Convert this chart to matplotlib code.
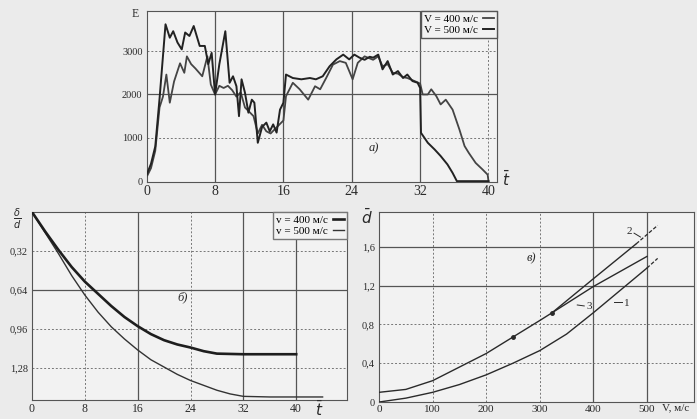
import numpy as np
import matplotlib.pyplot as plt

plt.rcParams['font.family'] = ['Liberation Serif', 'DejaVu Serif']

# ---- panel a): E(t) ----
tA = [0, 0.5, 1.0, 1.5, 2.2, 2.7, 3.1, 3.6, 4.1, 4.5, 5.0, 5.5, 6.2, 6.8, 7.2, 7.6, 8.0,
      8.5, 9.2, 9.7, 10.1, 10.5, 10.8, 11.1, 11.5, 11.9, 12.3, 12.6, 13.0, 13.5, 14.0,
      14.4, 14.8, 15.2, 15.6, 16.0, 16.3, 17.1, 18.1, 19.1, 19.8, 20.6, 21.4, 22.2,
      23.0, 23.7, 24.3, 24.9, 25.5, 26.1, 26.5, 27.1, 27.6, 28.2, 28.8, 29.4, 30.0,
      30.5, 31.1, 31.7, 32.0, 32.1, 32.9, 33.7, 34.4, 35.2, 35.8, 36.3, 40.0]
EA = [150, 400, 800, 1900, 3620, 3310, 3460, 3200, 3040, 3430, 3350, 3580, 3120, 3120,
      2700, 2960, 2000, 2700, 3460, 2270, 2420, 2190, 1500, 2350, 2040, 1580, 1880, 1810,
      885, 1250, 1350, 1150, 1310, 1120, 1650, 1810, 2460, 2380, 2350, 2380, 2350, 2420,
      2650, 2810, 2920, 2810, 2920, 2850, 2800, 2870, 2850, 2920, 2580, 2770, 2460, 2540,
      2380, 2460, 2310, 2270, 2150, 1115, 885, 730, 580, 385, 190, 0, 0]

tB = [0, 0.5, 1.0, 1.5, 1.9, 2.3, 2.7, 3.2, 3.9, 4.4, 4.7, 5.2, 5.7, 6.5, 7.1, 7.5, 8.0,
      8.5, 9.0, 9.5, 10.0, 10.5, 11.0, 11.5, 12.0, 12.5, 13.0, 13.5, 14.0, 14.5, 15.0,
      15.5, 16.0, 16.3, 17.1, 17.9, 18.9, 19.7, 20.3, 21.0, 21.8, 22.6, 23.3, 24.1, 24.7,
      25.5, 26.5, 27.1, 27.6, 28.2, 28.8, 29.4, 30.0, 30.5, 31.1, 31.7, 32.0, 32.3, 32.9,
      33.3, 33.9, 34.4, 35.0, 35.8, 36.6, 37.2, 37.7, 38.5, 39.3, 39.9, 40.0]
EB = [100, 300, 700, 1700, 1950, 2460, 1810, 2300, 2720, 2500, 2880, 2700, 2600, 2420,
      2880, 2230, 2000, 2200, 2150, 2200, 2100, 1950, 2050, 1700, 1600, 1500, 1100, 1300,
      1150, 1100, 1200, 1300, 1400, 1960, 2270, 2120, 1880, 2190, 2120, 2380, 2690, 2770,
      2730, 2350, 2730, 2880, 2800, 2880, 2650, 2700, 2500, 2480, 2400, 2380, 2330, 2280,
      2250, 2000, 2000, 2120, 1960, 1770, 1880, 1650, 1190, 810, 650, 420, 270, 150, 0]

# ---- panel б): delta/d(t) ----
t400 = [0, 2, 4, 6, 8, 10, 12, 14, 16, 18, 20, 22, 24, 26, 28, 32, 36, 40]
dd400 = [0, 0.16, 0.31, 0.45, 0.57, 0.67, 0.77, 0.86, 0.935, 1.0, 1.05, 1.085, 1.11,
         1.14, 1.16, 1.165, 1.165, 1.165]
t500 = [0, 2, 4, 6, 8, 10, 12, 14, 16, 18, 20, 22, 24, 26, 28, 30, 32, 36, 40, 44]
dd500 = [0, 0.17, 0.34, 0.52, 0.68, 0.82, 0.94, 1.04, 1.13, 1.21, 1.27, 1.33, 1.38,
         1.42, 1.46, 1.49, 1.51, 1.515, 1.515, 1.515]

# ---- panel в): d(V) ----
V_common = [0, 50, 100, 150, 200, 250, 300, 323]
d_common = [0.1, 0.13, 0.22, 0.36, 0.50, 0.67, 0.84, 0.92]
V2 = [323, 400, 480]
d2 = [0.92, 1.27, 1.63]
V2_ext = [480, 520]
d2_ext = [1.63, 1.82]
V3 = [323, 400, 500]
d3 = [0.92, 1.19, 1.50]
V1 = [0, 50, 100, 150, 200, 250, 300, 350, 400, 450, 500]
d1 = [0.0, 0.04, 0.10, 0.18, 0.28, 0.40, 0.53, 0.70, 0.92, 1.15, 1.38]
V1_ext = [500, 520]
d1_ext = [1.38, 1.48]

bg = '#ebebeb'
ink = '#2a2a2a'
fig = plt.figure(figsize=(6.97, 4.19), dpi=100, facecolor=bg)

def grid(ax, xs, ys, solid_x=(), solid_y=()):
    for x in xs:
        if x in solid_x:
            ax.axvline(x, color='#555555', lw=0.9, zorder=1)
        else:
            ax.axvline(x, color='#777777', lw=0.7, ls=(0, (2, 2)), zorder=1)
    for y in ys:
        if y in solid_y:
            ax.axhline(y, color='#555555', lw=0.9, zorder=1)
        else:
            ax.axhline(y, color='#777777', lw=0.7, ls=(0, (2, 2)), zorder=1)

def style(ax):
    ax.set_facecolor('#f2f2f2')
    for s in ax.spines.values():
        s.set_color('#555555')
        s.set_linewidth(0.8)
    ax.tick_params(length=0, colors=ink, pad=3)

# top
ax1 = fig.add_axes([0.2105, 0.5656, 0.5026, 0.408])
style(ax1)
ax1.set_xlim(0, 41)
ax1.set_ylim(-20, 3925)
ax1.set_xticks([0, 8, 16, 24, 32, 40])
ax1.set_yticks([0, 1000, 2000, 3000])
ax1.tick_params(axis='x', labelsize=10, pad=2)
ax1.tick_params(axis='y', labelsize=7.5)
grid(ax1, [8, 16, 24, 32, 40], [1000, 2000, 3000], solid_x=(8, 16, 24, 32), solid_y=(2000,))
ax1.plot(tB, EB, color='#444444', lw=1.3, zorder=3, label='V = 400 м/с')
ax1.plot(tA, EA, color='#222222', lw=1.4, zorder=4, label='V = 500 м/с')
leg = ax1.legend(loc='upper right', markerfirst=False, fontsize=8, handlelength=1.0,
                 borderaxespad=0, fancybox=False, framealpha=1, edgecolor='#555555',
                 facecolor='#f2f2f2', borderpad=0.3, labelspacing=0.1, handletextpad=0.4)
ax1.text(-0.9, 3850, 'E', fontsize=8.5, ha='right', va='center', color=ink)
ax1.text(41.6, 30, r'$\bar{t}$', fontsize=11, ha='left', va='center', color=ink, clip_on=False)
ax1.text(26, 700, 'а)', fontsize=9, style='italic', color=ink)

# bottom left
ax2 = fig.add_axes([0.0459, 0.0453, 0.452, 0.4487])
style(ax2)
ax2.set_xlim(0, 47.7)
ax2.set_ylim(1.54, 0)
ax2.set_xticks([0, 8, 16, 24, 32, 40])
ax2.set_yticks([0.32, 0.64, 0.96, 1.28])
ax2.set_yticklabels(['0,32', '0,64', '0,96', '1,28'])
ax2.tick_params(axis='x', labelsize=8.5, pad=2)
ax2.tick_params(axis='y', labelsize=7.5)
grid(ax2, [8, 16, 24, 32, 40], [0.32, 0.64, 0.96, 1.28], solid_x=(16, 32, 40), solid_y=(0.64,))
ax2.plot(t400, dd400, color='#1e1e1e', lw=1.9, zorder=4, label='v = 400 м/с')
ax2.plot(t500, dd500, color='#333333', lw=1.0, zorder=3, label='v = 500 м/с')
ax2.legend(loc='upper right', markerfirst=False, fontsize=8, handlelength=1.0,
           borderaxespad=0, fancybox=False, framealpha=1, edgecolor='#777777',
           facecolor='#f2f2f2', borderpad=0.3, labelspacing=0.1, handletextpad=0.4)
ax2.text(-1.6, 0.06, r'$\frac{\delta}{d}$', fontsize=10, ha='right', va='center', color=ink)
ax2.text(43.5, 1.62, r'$\bar{t}$', fontsize=11, ha='center', va='center', color=ink, clip_on=False)
ax2.text(22, 0.72, 'б)', fontsize=9, style='italic', color=ink)

# bottom right
ax3 = fig.add_axes([0.5438, 0.0405, 0.452, 0.454])
style(ax3)
ax3.set_xlim(0, 588)
ax3.set_ylim(0, 1.96)
ax3.set_xticks([0, 100, 200, 300, 400, 500])
ax3.set_yticks([0, 0.4, 0.8, 1.2, 1.6])
ax3.set_yticklabels(['0', '0,4', '0,8', '1,2', '1,6'])
ax3.tick_params(axis='x', labelsize=8, pad=2)
ax3.tick_params(axis='y', labelsize=7.5)
grid(ax3, [100, 200, 300, 400, 500], [0.4, 0.8, 1.2, 1.6], solid_x=(400, 500), solid_y=(1.2, 1.6))
ax3.plot(V_common, d_common, color=ink, lw=1.0, zorder=3)
ax3.plot(V2, d2, color=ink, lw=1.0, zorder=3)
ax3.plot(V2_ext, d2_ext, color=ink, lw=0.9, ls=(0, (3, 1.5)), zorder=3)
ax3.plot(V3, d3, color=ink, lw=1.0, zorder=3)
ax3.plot(V1, d1, color=ink, lw=1.0, zorder=3)
ax3.plot(V1_ext, d1_ext, color=ink, lw=0.9, ls=(0, (3, 1.5)), zorder=3)
ax3.plot([V_common[5], V_common[7]], [d_common[5], d_common[7]], 'o', color=ink, ms=2.5, zorder=4)
ax3.text(468, 1.76, '2', fontsize=8, ha='center', va='center', color=ink)
ax3.plot([476, 488], [1.74, 1.70], color=ink, lw=0.7)
ax3.text(392, 0.98, '3', fontsize=8, ha='center', va='center', color=ink)
ax3.plot([370, 383], [1.00, 0.99], color=ink, lw=0.7)
ax3.text(462, 1.02, '1', fontsize=8, ha='center', va='center', color=ink)
ax3.plot([438, 454], [1.03, 1.03], color=ink, lw=0.7)
ax3.text(-12, 1.90, r'$\bar{d}$', fontsize=11, ha='right', va='center', color=ink)
ax3.text(528, -0.06, 'V, м/с', fontsize=8, ha='left', va='center', color=ink, clip_on=False)
ax3.text(275, 1.45, 'в)', fontsize=9, style='italic', color=ink)

fig.savefig('out.png', dpi=100, facecolor=bg)
